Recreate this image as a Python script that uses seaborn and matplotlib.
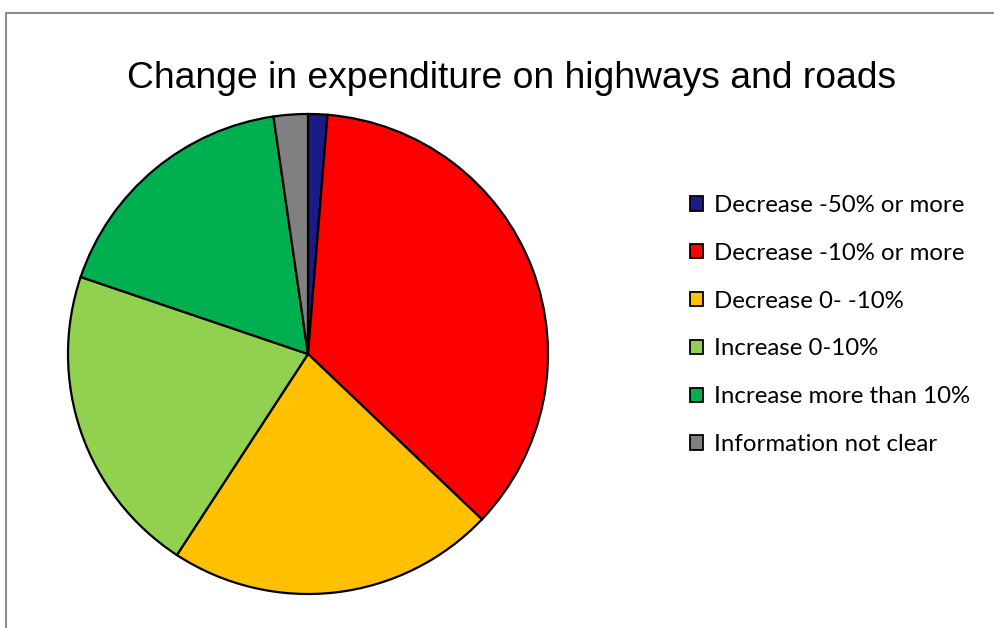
import matplotlib
matplotlib.use("Agg")
import matplotlib.pyplot as plt
import seaborn as sns
from matplotlib.lines import Line2D

# Survey responses: share of authorities by change in road spending (%)
categories = [
    "Decrease -50% or more",
    "Decrease -10% or more",
    "Decrease 0- -10%",
    "Increase 0-10%",
    "Increase more than 10%",
    "Information not clear",
]
shares = [1.3, 35.8, 22.1, 21.0, 17.5, 2.3]
colors = ["#1c1a88", "#ff0000", "#ffc000", "#92d050", "#00b050", "#808080"]
title = "Change in expenditure on highways and roads"

sns.set_theme(style="white")
plt.rcParams["font.family"] = ["Liberation Sans", "DejaVu Sans"]
plt.rcParams["text.color"] = "black"

W, H = 994, 628
fig = plt.figure(figsize=(W / 100, H / 100), dpi=100)
fig.patch.set_facecolor("white")

# Pie axes: centre (308, 354) px, radius 240 px
cx, cy, r = 308, 354, 240
ax = fig.add_axes([(cx - r) / W, (H - cy - r) / H, 2 * r / W, 2 * r / H])
wedges, _ = ax.pie(
    shares,
    colors=colors,
    startangle=90,
    counterclock=False,
    radius=1.0,
    wedgeprops=dict(edgecolor="black", linewidth=1.6),
)
ax.set_xlim(-1.0, 1.0)
ax.set_ylim(-1.0, 1.0)
ax.set_aspect("equal")
ax.axis("off")

fig.text(512 / W, 1 - 78 / H, title, ha="center", va="center",
         fontsize=26.8, color="black", family=["Liberation Sans", "DejaVu Sans"])

leg = fig.legend(
    wedges, categories,
    loc="center left",
    bbox_to_anchor=(690 / W, 1 - 325 / H),
    frameon=False,
    prop={"family": ["Lato", "DejaVu Sans"], "size": 17.3},
    handlelength=0.56, handleheight=0.56,
    handletextpad=0.42,
    labelspacing=1.12,
    borderaxespad=0, borderpad=0,
)
for t in leg.get_texts():
    t.set_color("black")
for h in leg.legend_handles:
    h.set_edgecolor("black")
    h.set_linewidth(1.3)

# Outer chart frame (top and left edges)
fig.add_artist(Line2D([6 / W, 1.0], [1 - 12.5 / H, 1 - 12.5 / H],
                      transform=fig.transFigure, color="#8c8c8c", lw=1.5))
fig.add_artist(Line2D([6 / W, 6 / W], [0.0, 1 - 12.5 / H],
                      transform=fig.transFigure, color="#8c8c8c", lw=1.5))

fig.savefig("out.png", dpi=100, facecolor="white")
